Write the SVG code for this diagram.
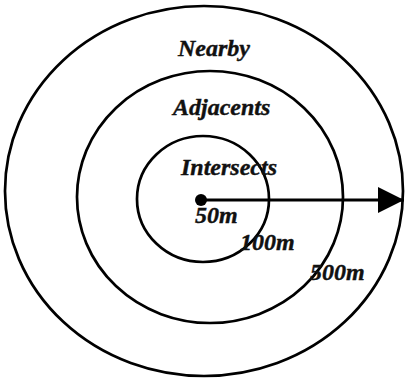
<svg xmlns="http://www.w3.org/2000/svg" width="405" height="382" viewBox="0 0 405 382">
<defs>
<style>
.ring{fill:none;stroke:#000;stroke-width:2.7}
.t{font-family:"Liberation Serif","Times New Roman",serif;font-weight:bold;font-style:italic;font-size:24px;fill:#111;stroke:#111;stroke-width:0.4}
</style>
<marker id="ah" markerUnits="userSpaceOnUse" markerWidth="27" markerHeight="27" refX="26" refY="13" orient="auto">
<path d="M0,0 L26,13 L0,26 Z" fill="#000"/>
</marker>
</defs>
<rect width="405" height="382" fill="#fff"/>
<g id="outer"><ellipse class="ring" cx="204" cy="191" rx="199" ry="185"/><text class="t" x="178" y="56">Nearby</text></g>
<g id="middle"><ellipse class="ring" cx="210" cy="197" rx="133" ry="126"/><text class="t" x="173" y="115">Adjacents</text></g>
<g id="inner"><ellipse class="ring" cx="203" cy="199" rx="66" ry="63"/><text class="t" x="181" y="175">Intersects</text></g>
<g id="center"><circle cx="201" cy="200" r="6" fill="#000"/></g>
<g id="connectors"><line x1="201" y1="200" x2="404" y2="200" stroke="#000" stroke-width="3" marker-end="url(#ah)"/></g>
<g id="labels">
<text class="t" x="195" y="223">50m</text>
<text class="t" x="240" y="250">100m</text>
<text class="t" x="310" y="280">500m</text>
</g>
</svg>
